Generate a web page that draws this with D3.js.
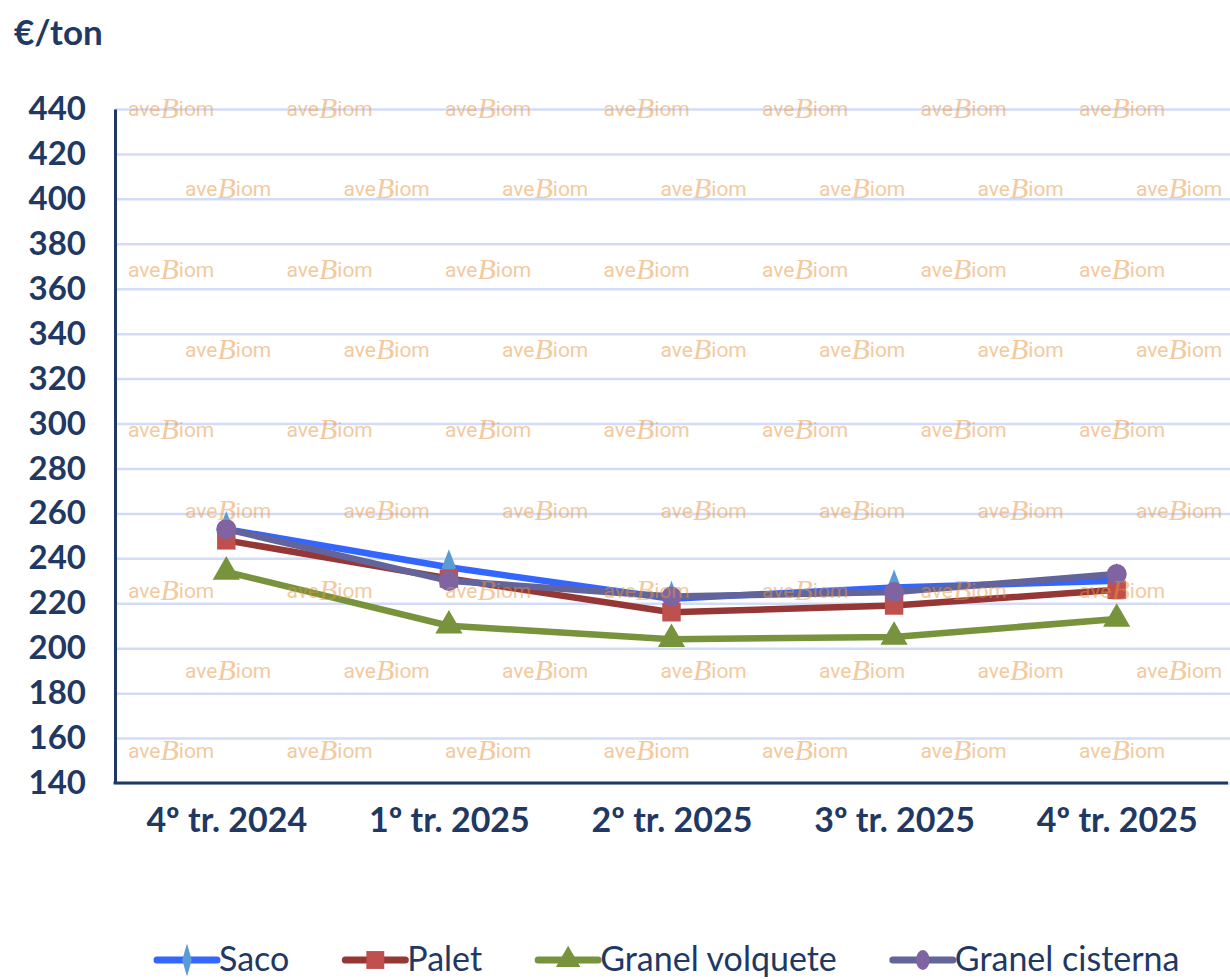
<!DOCTYPE html>
<html>
<head>
<meta charset="utf-8">
<script src="https://cdn.jsdelivr.net/npm/d3@7"></script>
<style>
  body { margin: 0; background: #fff; }
  svg { display: block; font-family: Lato, "Open Sans", sans-serif; }
</style>
</head>
<body>
<svg id="chart" width="1230" height="979"></svg>
<script>
// data
var categories = ["4º tr. 2024", "1º tr. 2025", "2º tr. 2025", "3º tr. 2025", "4º tr. 2025"];
var seriesNames = ["Saco", "Palet", "Granel volquete", "Granel cisterna"];
var saco = [253, 236, 222, 227, 230];
var palet = [248, 231, 216, 219, 226];
var volquete = [234, 210, 204, 205, 213];
var cisterna = [253, 230, 223, 225, 233];
var yTicks = [140, 160, 180, 200, 220, 240, 260, 280, 300, 320, 340, 360, 380, 400, 420, 440];

var lineColors = ["#3366ff", "#953735", "#77933c", "#62649a"];
var markColors = ["#5b9bd5", "#c0504d", "#77933c", "#8064a2"];
var markTypes = [d3.symbolDiamond, d3.symbolSquare, d3.symbolTriangle, d3.symbolCircle];

var navy = "#1f3864";
var svg = d3.select("#chart");
var plotLeft = 115, plotRight = 1228, plotTop = 109, plotBottom = 783;

var x = d3.scalePoint().domain(categories).range([plotLeft, plotRight]).padding(0.5);
var y = d3.scaleLinear().domain([140, 440]).range([plotBottom, plotTop]);

// gridlines
svg.append("g")
    .attr("transform", "translate(" + plotLeft + ",0)")
    .call(d3.axisLeft(y).tickValues(yTicks).tickSize(-(1230 - plotLeft)).tickFormat(""))
    .call(g => g.select(".domain").remove())
    .selectAll("line")
    .attr("stroke", "#d3dcf6")
    .attr("stroke-width", 2.5);

// y axis
var yAxis = svg.append("g")
    .attr("transform", "translate(" + plotLeft + ",0)")
    .call(d3.axisLeft(y).tickValues(yTicks).tickSize(0).tickSizeOuter(0).tickPadding(29));
yAxis.select(".domain").attr("stroke", navy).attr("stroke-width", 3);
yAxis.selectAll("text")
    .attr("fill", navy)
    .style("font-size", "33px")
    .style("font-weight", "bold")
    .style("font-family", "Lato");

// x axis
var xAxis = svg.append("g")
    .attr("transform", "translate(0," + plotBottom + ")")
    .call(d3.axisBottom(x).tickSize(0).tickSizeOuter(0));
xAxis.select(".domain").attr("stroke", navy).attr("stroke-width", 3).attr("d", "M" + (plotLeft - 1.5) + ",0H" + plotRight);
xAxis.selectAll("text")
    .attr("y", 49)
    .attr("dy", null)
    .attr("fill", navy)
    .style("font-size", "34px")
    .style("font-weight", "bold")
    .style("font-family", "Lato");

// unit label
svg.append("text")
    .attr("x", 14)
    .attr("y", 45)
    .attr("fill", navy)
    .style("font-size", "35px")
    .style("font-weight", "bold")
    .text("€/ton");

// lines and markers
var allSeries = [saco, palet, volquete, cisterna];
var line = d3.line().x((d, i) => x(categories[i])).y(d => y(d));
var markSizes = [260, 340, 320, 320];

allSeries.forEach(function(vals, s) {
    svg.append("path")
        .datum(vals)
        .attr("d", line)
        .attr("fill", "none")
        .attr("stroke", lineColors[s])
        .attr("stroke-width", 6.5)
        .attr("stroke-linejoin", "round");
    svg.selectAll(".m" + s)
        .data(vals)
        .enter()
        .append("path")
        .attr("class", "m" + s)
        .attr("transform", (d, i) => "translate(" + x(categories[i]) + "," + y(d) + ")" + (s == 0 ? " scale(0.8,1.2)" : ""))
        .attr("d", d3.symbol().type(markTypes[s]).size(markSizes[s]))
        .attr("fill", markColors[s]);
});

// watermark grid
var wm = svg.append("g").attr("opacity", 0.5);
for (var r = 0; r < 9; r++) {
    var wy = 116 + r * 80.3;
    var x0 = r % 2 == 0 ? 128 : 185;
    for (var c = 0; c < 7; c++) {
        var t = wm.append("text")
            .attr("x", x0 + c * 158.5)
            .attr("y", wy)
            .attr("fill", "#e9953f")
            .style("font-family", "Roboto")
            .style("font-size", "21px");
        t.append("tspan").text("ave");
        t.append("tspan")
            .style("font-family", "Liberation Serif")
            .style("font-style", "italic")
            .style("font-size", "30px")
            .attr("dy", 2)
            .text("B");
        t.append("tspan").attr("dy", -2).text("iom");
    }
}

// legend
var legend = svg.append("g");
var lx = 157, ly = 960;
seriesNames.forEach(function(name, s) {
    legend.append("line")
        .attr("x1", lx).attr("x2", lx + 60)
        .attr("y1", ly).attr("y2", ly)
        .attr("stroke", lineColors[s])
        .attr("stroke-width", 7)
        .attr("stroke-linecap", "round");
    legend.append("path")
        .attr("transform", "translate(" + (lx + 30) + "," + ly + ")" + (s == 0 ? " scale(0.6,1.2)" : s == 3 ? " scale(0.75,1.1)" : ""))
        .attr("d", d3.symbol().type(markTypes[s]).size(s == 0 ? 220 : s == 1 ? 320 : 260))
        .attr("fill", markColors[s]);
    var txt = legend.append("text")
        .attr("x", lx + 62)
        .attr("y", ly + 11)
        .attr("fill", navy)
        .style("font-size", "34px")
        .text(name);
    lx = lx + 62 + txt.node().getComputedTextLength() + 56;
});
</script>
</body>
</html>
